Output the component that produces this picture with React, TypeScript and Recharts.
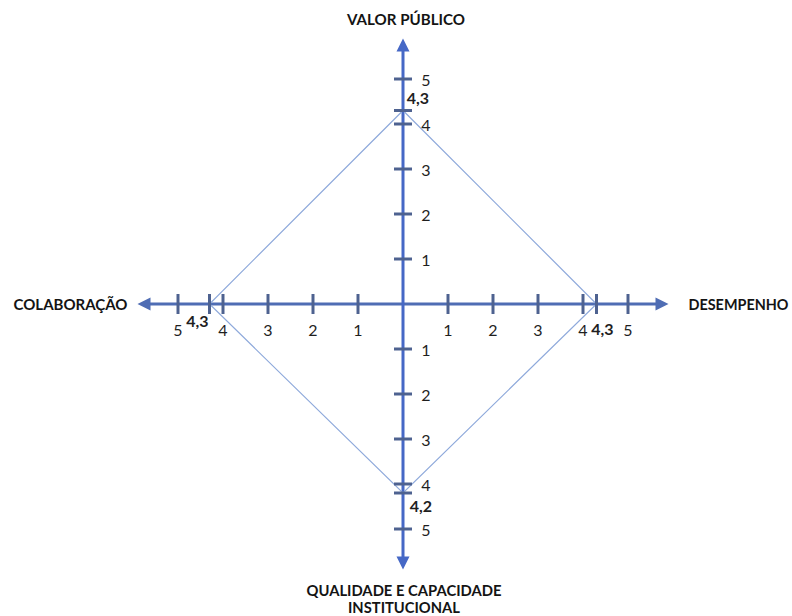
import React from 'react';
import { ScatterChart, Scatter, XAxis, YAxis } from 'recharts';

// ---- data ----
const axisTitles = ['VALOR PÚBLICO', 'DESEMPENHO', 'QUALIDADE E CAPACIDADE|INSTITUCIONAL', 'COLABORAÇÃO'];
const scores = [4.3, 4.3, 4.2, 4.3];
const scoreLabels = ['4,3', '4,3', '4,2', '4,3'];
const tickValues = [1, 2, 3, 4, 5];
// unit direction of each axis: up, right, down, left
const dirX = [0, 1, 0, -1];
const dirY = [1, 0, -1, 0];
const AXIS_END = 5.9;

const FONT = 'Lato, "Open Sans", "Liberation Sans", sans-serif';
const V_AXIS = '#4668C6';
const H_AXIS = '#4F6DB4';
const TICK = '#4E6290';
const DIAMOND = '#8EA9DB';
const TEXT = '#1f1f1f';

const diamondData = [0, 1, 2, 3, 0].map((i) => ({ x: dirX[i] * scores[i], y: dirY[i] * scores[i] }));
const hAxisData = [{ x: -AXIS_END + 0.2, y: 0 }, { x: AXIS_END - 0.2, y: 0 }];
const vAxisData = [{ x: 0, y: -AXIS_END + 0.2 }, { x: 0, y: AXIS_END - 0.2 }];

const tickData: any[] = [];
for (let a = 0; a < 4; a++) {
  tickValues.forEach((v) => tickData.push({ x: dirX[a] * v, y: dirY[a] * v, axis: a, label: String(v) }));
  tickData.push({ x: dirX[a] * scores[a], y: dirY[a] * scores[a], axis: a, label: '' });
}
const scoreData = [0, 1, 2, 3].map((a) => ({ x: dirX[a] * scores[a], y: dirY[a] * scores[a], axis: a, label: scoreLabels[a] }));
const endData = [0, 1, 2, 3].map((a) => ({ x: dirX[a] * AXIS_END, y: dirY[a] * AXIS_END, axis: a, title: axisTitles[a] }));

const titleWidths = [118, 100, 195, 114];
const line2Width = 112;

const Empty = () => <g />;

const TickShape = (p: any) => {
  const { cx, cy, payload } = p;
  const horiz = payload.axis === 1 || payload.axis === 3;
  const labelStyle = { fontFamily: FONT, fontSize: 16, fill: TEXT };
  return (
    <g>
      {horiz ? (
        <line x1={cx} y1={cy - 10} x2={cx} y2={cy + 10} stroke={TICK} strokeWidth={3} />
      ) : (
        <line x1={cx - 9} y1={cy} x2={cx + 9} y2={cy} stroke={TICK} strokeWidth={3} />
      )}
      {payload.label !== '' &&
        (horiz ? (
          <text x={cx} y={cy + 25} textAnchor="middle" dominantBaseline="central" style={labelStyle}>
            {payload.label}
          </text>
        ) : (
          <text x={cx + 23} y={cy} textAnchor="middle" dominantBaseline="central" style={labelStyle}>
            {payload.label}
          </text>
        ))}
    </g>
  );
};

const scoreOffsets = [
  [15, -13],
  [6, 24],
  [18, 12],
  [-12, 16],
];

const ScoreShape = (p: any) => {
  const { cx, cy, payload } = p;
  const [dx, dy] = scoreOffsets[payload.axis];
  return (
    <text
      x={cx + dx}
      y={cy + dy}
      textAnchor="middle"
      dominantBaseline="central"
      style={{ fontFamily: FONT, fontSize: 16, fontWeight: 700, fill: TEXT }}
    >
      {payload.label}
    </text>
  );
};

const EndShape = (p: any) => {
  const { cx, cy, payload } = p;
  const a = payload.axis;
  const L = 13;
  const W = 6.5;
  let pts = '';
  if (a === 0) pts = `${cx},${cy} ${cx - W},${cy + L} ${cx + W},${cy + L}`;
  if (a === 2) pts = `${cx},${cy} ${cx - W},${cy - L} ${cx + W},${cy - L}`;
  if (a === 1) pts = `${cx},${cy} ${cx - L},${cy - W} ${cx - L},${cy + W}`;
  if (a === 3) pts = `${cx},${cy} ${cx + L},${cy - W} ${cx + L},${cy + W}`;
  const color = a === 0 || a === 2 ? V_AXIS : H_AXIS;
  const ts = { fontFamily: FONT, fontSize: 15, fontWeight: 700, fill: '#141414' };
  const lines = String(payload.title).split('|');
  let title: React.ReactNode = null;
  if (a === 0) {
    title = (
      <text x={cx + 3} y={cy - 20} textAnchor="middle" dominantBaseline="central" style={ts}
        textLength={titleWidths[0]} lengthAdjust="spacingAndGlyphs">
        {lines[0]}
      </text>
    );
  } else if (a === 2) {
    title = (
      <g>
        <text x={cx + 1} y={cy + 20} textAnchor="middle" dominantBaseline="central" style={ts}
          textLength={titleWidths[2]} lengthAdjust="spacingAndGlyphs">
          {lines[0]}
        </text>
        <text x={cx + 1} y={cy + 37} textAnchor="middle" dominantBaseline="central" style={ts}
          textLength={line2Width} lengthAdjust="spacingAndGlyphs">
          {lines[1]}
        </text>
      </g>
    );
  } else if (a === 1) {
    title = (
      <text x={cx + 20} y={cy} textAnchor="start" dominantBaseline="central" style={ts}
        textLength={titleWidths[1]} lengthAdjust="spacingAndGlyphs">
        {lines[0]}
      </text>
    );
  } else {
    title = (
      <text x={cx - 10} y={cy} textAnchor="end" dominantBaseline="central" style={ts}
        textLength={titleWidths[3]} lengthAdjust="spacingAndGlyphs">
        {lines[0]}
      </text>
    );
  }
  return (
    <g>
      <polygon points={pts} fill={color} />
      {title}
    </g>
  );
};

export default function App() {
  return (
    <div style={{ position: 'absolute', left: 0, top: 0, width: 792, height: 616, background: '#fff' }}>
      <ScatterChart width={792} height={616} margin={{ top: 38.5, right: 123.5, bottom: 46.5, left: 137.5 }}>
        <XAxis type="number" dataKey="x" domain={[-AXIS_END, AXIS_END]} hide />
        <YAxis type="number" dataKey="y" domain={[-AXIS_END, AXIS_END]} hide />
        <Scatter data={hAxisData} line={{ stroke: H_AXIS, strokeWidth: 3 }} shape={Empty} isAnimationActive={false} />
        <Scatter data={vAxisData} line={{ stroke: V_AXIS, strokeWidth: 3 }} shape={Empty} isAnimationActive={false} />
        <Scatter data={diamondData} line={{ stroke: DIAMOND, strokeWidth: 1.2 }} shape={Empty} isAnimationActive={false} />
        <Scatter data={tickData} shape={TickShape} isAnimationActive={false} />
        <Scatter data={endData} shape={EndShape} isAnimationActive={false} />
        <Scatter data={scoreData} shape={ScoreShape} isAnimationActive={false} />
      </ScatterChart>
    </div>
  );
}
